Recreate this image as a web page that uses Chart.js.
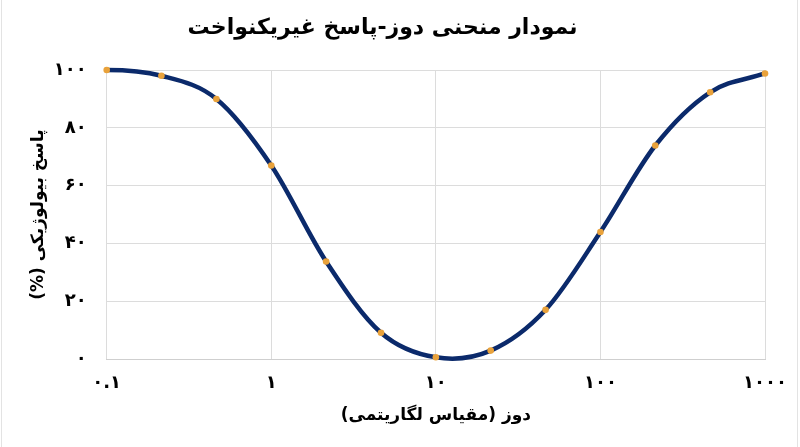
<!DOCTYPE html>
<html lang="fa">
<head>
<meta charset="utf-8">
<script src="https://cdn.jsdelivr.net/npm/chart.js@4.4.1/dist/chart.umd.min.js"></script>
<style>
  html, body { margin: 0; padding: 0; background: #fff; }
  #wrap { position: relative; width: 800px; height: 447px; }
  #wrap::before, #wrap::after { content: ""; position: absolute; top: 0; bottom: 0; width: 1px; background: #e3e3e3; }
  #wrap::before { left: 1px; }
  #wrap::after { left: 797px; }
  canvas { display: block; }
</style>
</head>
<body>
<div id="wrap"><canvas id="c" width="800" height="447"></canvas></div>
<script>
const RLE = "\u202B", PDF = "\u202C";
const titleText = "نمودار منحنی دوز-پاسخ غیریکنواخت";
const xAxisTitle = "دوز (مقیاس لگاریتمی)";
const yAxisTitle = "پاسخ بیولوژیکی (%)";

const doses = [0.1, 0.215, 0.464, 1, 2.154, 4.642, 10, 21.54, 46.42, 100, 215.4, 464.2, 1000];
const responses = [100, 98, 90, 67, 33.8, 9.2, 0.7, 3.0, 17.1, 44.0, 73.9, 92.3, 98.8];

const xTickValues = [0.1, 1, 10, 100, 1000];
const xTickLabels = ["۰.۱", "۱", "۱۰", "۱۰۰", "۱۰۰۰"];
const yTickValues = [0, 20, 40, 60, 80, 100];
const yTickLabels = ["۰", "۲۰", "۴۰", "۶۰", "۸۰", "۱۰۰"];

const points = doses.map((d, i) => ({ x: d, y: responses[i] }));
const FONT = "'DejaVu Sans', 'Noto Sans', sans-serif";
const rtl = (t) => RLE + t + PDF;

// Smooth (uniform Catmull-Rom) control points for the curve dataset,
// computed from the pixel positions the library's scales produced.
const smoothCurve = {
  id: 'smoothCurve',
  beforeDatasetDraw(chart, args) {
    if (args.index !== 1) return;
    const line = args.meta.dataset;
    const pts = args.meta.data;
    line.updateControlPoints(chart.chartArea, 'x');
    const n = pts.length;
    for (let i = 0; i < n; i++) {
      const prev = pts[Math.max(0, i - 1)];
      const next = pts[Math.min(n - 1, i + 1)];
      const p = pts[i];
      let k = 1 / 6;
      if (i === 0 || i === n - 1) k = 1 / 3;
      let dx = (next.x - prev.x) * k;
      let dy = (next.y - prev.y) * k;
      if (i === 0) dy = 0;
      p.cp1x = p.x - dx; p.cp1y = p.y - dy;
      p.cp2x = p.x + dx; p.cp2y = p.y + dy;
    }
    line._path = undefined;
  }
};

new Chart(document.getElementById('c'), {
  type: 'line',
  data: {
    datasets: [
      {
        label: 'داده‌ها',
        data: points,
        showLine: false,
        pointRadius: 3.3,
        pointBackgroundColor: '#e9a23b',
        pointBorderWidth: 0,
        clip: false,
        order: 0
      },
      {
        label: 'منحنی',
        data: points,
        borderColor: '#0b2a6b',
        borderWidth: 4.5,
        pointRadius: 0,
        tension: 0.4,
        fill: false,
        clip: 3,
        order: 1
      }
    ]
  },
  plugins: [smoothCurve],
  options: {
    responsive: false,
    animation: false,
    layout: { padding: { left: 0, right: 35, top: 0, bottom: 0 } },
    plugins: {
      legend: { display: false },
      tooltip: { enabled: false },
      title: {
        display: true,
        text: rtl(titleText),
        color: '#000',
        font: { family: FONT, size: 22, weight: 'bold', lineHeight: 1.2 },
        padding: { top: 15, bottom: 28.6 }
      }
    },
    scales: {
      x: {
        type: 'logarithmic',
        min: 0.1,
        max: 1000,
        afterBuildTicks: (s) => { s.ticks = xTickValues.map(v => ({ value: v })); },
        afterFit: (s) => { s.height = 87.7; },
        ticks: {
          color: '#000',
          padding: 13,
          maxRotation: 0,
          autoSkip: false,
          font: { family: FONT, size: 18, weight: 'bold' },
          callback: (v) => { const i = xTickValues.indexOf(v); return i >= 0 ? xTickLabels[i] : ''; }
        },
        grid: { color: '#dcdcdc', lineWidth: 1, drawTicks: false },
        border: { color: '#cfcfcf' },
        title: {
          display: true,
          text: rtl(xAxisTitle),
          color: '#000',
          font: { family: FONT, size: 17, weight: 'bold' },
          padding: { top: 4, bottom: 21 }
        }
      },
      y: {
        min: 0,
        max: 100,
        afterBuildTicks: (s) => { s.ticks = yTickValues.map(v => ({ value: v })); },
        afterFit: (s) => { s.width = 106.7; },
        ticks: {
          color: '#000',
          padding: 20,
          font: { family: FONT, size: 18, weight: 'bold' },
          callback: (v) => { const i = yTickValues.indexOf(v); return i >= 0 ? yTickLabels[i] : ''; }
        },
        grid: { color: '#dcdcdc', lineWidth: 1, drawTicks: false },
        border: { display: false },
        title: {
          display: true,
          text: rtl(yAxisTitle),
          color: '#000',
          font: { family: FONT, size: 17, weight: 'bold' },
          padding: { top: 28, bottom: 0 }
        }
      }
    }
  }
});
</script>
</body>
</html>
